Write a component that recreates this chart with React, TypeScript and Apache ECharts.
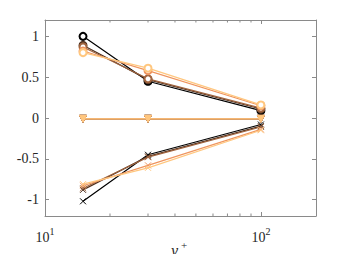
import React, { useEffect, useRef } from "react";
import * as echarts from "echarts";

const xValues = [15, 30, 100];
const lineColors = ["#000000", "#50321f", "#a0643f", "#ef955f", "#ffc77f"];
const circleValues = [
  [1.0, 0.45, 0.09],
  [0.89, 0.47, 0.11],
  [0.87, 0.48, 0.12],
  [0.82, 0.58, 0.15],
  [0.8, 0.61, 0.16],
];
const triangleValues = [
  [-0.01, -0.01, -0.01],
  [-0.01, -0.01, -0.01],
  [-0.01, -0.01, -0.01],
  [-0.01, -0.01, -0.01],
  [-0.01, -0.01, -0.01],
];
const crossValues = [
  [-1.02, -0.45, -0.08],
  [-0.88, -0.47, -0.1],
  [-0.86, -0.48, -0.11],
  [-0.83, -0.58, -0.14],
  [-0.81, -0.61, -0.15],
];
const yTickValues = [-1, -0.5, 0, 0.5, 1];
const xMinorTicks = [20, 30, 40, 50, 60, 70, 80, 90];
const xTitle = "y";
const xTitleSup = "+";

const X_MIN = 10;
const X_MAX = 180;
const Y_MIN = -1.2;
const Y_MAX = 1.2;
const FONT = "'Liberation Serif', 'Times New Roman', serif";
const AXIS_COLOR = "#8a8a8a";
const TEXT_COLOR = "#262626";

export default function App() {
  const ref = useRef<HTMLDivElement>(null);
  useEffect(() => {
    if (!ref.current) return;
    const chart = echarts.init(ref.current, undefined, { renderer: "svg" });
    const mkSeries = (
      values: number[][],
      symbol: string,
      size: number,
      rotate: number,
      tag: string
    ) =>
      values.map((vals, i) => ({
        type: "line",
        name: tag + i,
        data: xValues.map((x, j) => [x, vals[j]]),
        symbol,
        symbolSize: size,
        symbolRotate: rotate,
        showAllSymbol: true,
        lineStyle: { color: lineColors[i], width: 1.2 },
        itemStyle: {
          color: lineColors[i],
          borderColor: lineColors[i],
          borderWidth: 1,
        },
        emphasis: { disabled: true },
        z: 2 + i,
      }));

    const option: any = {
      animation: false,
      textStyle: { fontFamily: FONT },
      grid: { left: 45, top: 20, right: 33, bottom: 46, outerBoundsMode: "none", containLabel: false },
      graphic: [
        {
          type: "text",
          left: 171,
          top: 242,
          style: { text: xTitle, font: "italic 16px " + FONT, fill: TEXT_COLOR },
        },
        {
          type: "text",
          left: 181,
          top: 239,
          style: { text: xTitleSup, font: "11px " + FONT, fill: TEXT_COLOR },
        },
      ],
      xAxis: [
        {
          type: "log",
          logBase: 10,
          min: X_MIN,
          max: X_MAX,
          axisLine: { show: true, onZero: false, lineStyle: { color: AXIS_COLOR, width: 1 } },
          axisTick: { show: true, inside: true, length: 4, lineStyle: { color: AXIS_COLOR } },
          splitLine: { show: false },
          axisLabel: {
            margin: 10,
            color: TEXT_COLOR,
            fontFamily: FONT,
            formatter: (v: number) => {
              const l = Math.log10(v);
              if (Math.abs(l - Math.round(l)) > 1e-6) return "";
              return "{b|10}{s|" + Math.round(l) + "}";
            },
            rich: {
              b: { fontFamily: FONT, fontSize: 14, lineHeight: 18, verticalAlign: "bottom", color: TEXT_COLOR },
              s: { fontFamily: FONT, fontSize: 10, lineHeight: 10, verticalAlign: "top", color: TEXT_COLOR },
            },
          },
        },
        {
          type: "log",
          logBase: 10,
          min: X_MIN,
          max: X_MAX,
          position: "top",
          axisLine: { show: true, onZero: false, lineStyle: { color: AXIS_COLOR, width: 1 } },
          axisTick: { show: true, inside: true, length: 4, lineStyle: { color: AXIS_COLOR } },
          axisLabel: { show: false },
          splitLine: { show: false },
        },
      ],
      yAxis: [
        {
          type: "value",
          min: Y_MIN,
          max: Y_MAX,
          axisLine: { show: true, onZero: false, lineStyle: { color: AXIS_COLOR, width: 1 } },
          axisTick: { show: true, inside: true, length: 4, customValues: yTickValues, lineStyle: { color: AXIS_COLOR } },
          splitLine: { show: false },
          axisLabel: {
            customValues: yTickValues,
            margin: 6,
            color: TEXT_COLOR,
            fontFamily: FONT,
            fontSize: 14,
          },
        },
        {
          type: "value",
          min: Y_MIN,
          max: Y_MAX,
          position: "right",
          axisLine: { show: true, onZero: false, lineStyle: { color: AXIS_COLOR, width: 1 } },
          axisTick: { show: true, inside: true, length: 4, customValues: yTickValues, lineStyle: { color: AXIS_COLOR } },
          axisLabel: { show: false, customValues: yTickValues },
          splitLine: { show: false },
        },
      ],
      series: [
        {
          type: "custom",
          data: xMinorTicks.map((x) => [x, 0]),
          silent: true,
          clip: false,
          z: 1,
          renderItem: (_p: any, api: any) => {
            const x = api.value(0);
            const b = api.coord([x, Y_MIN]);
            const t = api.coord([x, Y_MAX]);
            const style = { stroke: AXIS_COLOR, lineWidth: 1 };
            return {
              type: "group",
              children: [
                { type: "line", shape: { x1: b[0], y1: b[1], x2: b[0], y2: b[1] - 2.5 }, style },
                { type: "line", shape: { x1: t[0], y1: t[1], x2: t[0], y2: t[1] + 2.5 }, style },
              ],
            };
          },
        },
        ...mkSeries(circleValues, "emptyCircle", 7, 0, "c"),
        ...mkSeries(triangleValues, "triangle", 7, 180, "t"),
        ...mkSeries(crossValues, "path://M0 0L10 10M10 0L0 10", 6, 0, "x"),
      ],
    };
    chart.setOption(option);
    return () => chart.dispose();
  }, []);
  return <div ref={ref} style={{ width: 349, height: 262, margin: -8 }} />;
}
